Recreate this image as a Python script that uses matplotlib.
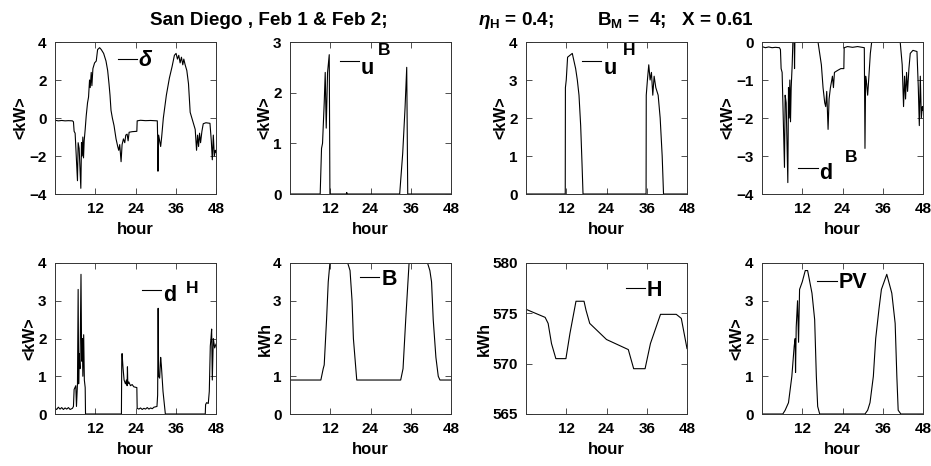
import numpy as np
import matplotlib
matplotlib.use("Agg")
import matplotlib.pyplot as plt

plt.rcParams['font.family'] = ['Liberation Sans', 'DejaVu Sans']
plt.rcParams['font.weight'] = 'bold'
plt.rcParams['mathtext.fontset'] = 'custom'
plt.rcParams['mathtext.rm'] = 'Liberation Sans:bold'
plt.rcParams['mathtext.bf'] = 'Liberation Sans:bold'
plt.rcParams['mathtext.it'] = 'Liberation Sans:italic:bold'

# ---------------- data (hour, value) ----------------
delta_pts = [(0,-0.12),(1,-0.15),(2,-0.13),(3,-0.15),(4,-0.14),(5.2,-0.15),(5.5,-0.2),(5.7,-0.7),(6.0,-0.8),
    (6.7,-3.3),(6.9,-1.3),(7.2,-1.6),(7.7,-3.7),(7.9,-1.3),(8.1,-2.0),(8.3,-1.0),(8.5,-2.1),(8.7,-1.2),(9.0,-0.6),
    (9.3,0.1),(9.7,0.8),(10.0,1.1),(10.3,2.0),(10.5,1.6),(10.8,2.4),(11.0,1.7),(11.3,2.6),(11.8,2.9),(12.3,3.0),
    (12.7,3.6),(13.3,3.7),(13.8,3.6),(14.5,3.4),(15.2,3.0),(15.7,2.5),(16.1,1.8),(16.4,1.2),(16.7,0.4),(17.1,0.0),
    (17.6,-0.4),(18.2,-1.1),(18.7,-1.5),(19.0,-1.7),(19.3,-1.4),(19.7,-2.3),(20.0,-1.4),(20.4,-1.1),(20.8,-1.3),
    (21.1,-0.9),(21.5,-0.85),(21.8,-1.2),(22.1,-0.75),(23.0,-0.72),(24.4,-0.7),(24.5,-0.15),(25.5,-0.12),(27.0,-0.14),
    (28.5,-0.13),(30.5,-0.15),(30.6,-1.0),(30.7,-2.8),(30.9,-0.9),(31.2,-1.2),(31.5,-1.5),(31.8,-1.0),(32.3,0.0),
    (33.2,1.2),(34.1,2.1),(34.9,2.7),(35.6,3.3),(36.1,3.4),(36.5,3.1),(36.9,3.3),(37.3,2.9),(37.7,3.2),(38.1,2.8),
    (38.4,3.1),(38.8,2.8),(39.3,2.5),(39.8,1.8),(40.3,0.3),(40.8,0.0),(41.3,-0.3),(41.8,-0.6),(42.2,-1.7),(42.5,-0.9),
    (42.8,-1.5),(43.1,-0.8),(43.4,-1.3),(43.8,-0.7),(44.2,-0.3),(45.0,-0.25),(46.2,-0.28),(46.6,-1.2),(46.9,-2.2),
    (47.2,-0.9),(47.5,-2.0),(47.8,-1.7),(48.0,-1.8)]

uB_pts = [(0,0),(9.0,0),(9.4,0.9),(9.7,1.0),(10.2,1.8),(10.5,2.4),(10.8,1.3),(11.2,2.4),(11.7,2.75),(11.9,0),
    (16.8,0),(16.9,0.03),(17.1,0),(32.7,0),(33.6,0.8),(34.3,1.7),(34.8,2.5),(35.1,0),(48,0)]

uH_pts = [(0,0),(11.7,0),(11.75,2.8),(12.0,3.0),(12.4,3.6),(13.8,3.7),(14.3,3.5),(14.8,3.3),(15.3,3.0),(15.8,2.6),
    (16.3,1.8),(16.7,0.8),(17.0,0),(35.8,0),(35.85,2.6),(36.2,3.0),(36.6,3.4),(37.0,3.0),(37.4,3.2),(37.8,2.6),
    (38.2,3.1),(38.7,2.8),(39.4,2.6),(40.0,2.0),(40.6,1.0),(41.0,0),(48,0)]

dB_pts = [(0,-0.12),(1,-0.15),(2,-0.13),(3,-0.15),(4,-0.14),(5.2,-0.15),(5.5,-0.2),(5.7,-0.7),(6.0,-0.8),(6.7,-3.3),
    (6.9,-1.4),(7.2,-1.6),(7.7,-3.7),(7.9,-1.2),(8.1,-2.0),(8.3,-1.0),(8.5,-2.1),(8.7,-1.2),(9.0,-0.6),(9.2,0),
    (9.6,0),(9.7,-0.7),(9.8,0),(10.2,0),(16.7,0),(17.2,-0.3),(17.7,-0.6),(18.2,-1.2),(18.7,-1.6),(19.0,-1.7),
    (19.3,-1.3),(19.7,-2.3),(20.0,-1.5),(20.4,-1.2),(21.0,-0.9),(21.3,-1.2),(21.6,-0.8),(22.5,-0.75),(23.5,-0.7),
    (24.4,-0.7),(24.5,-0.15),(25.5,-0.12),(27,-0.14),(28.5,-0.12),(30.5,-0.15),(30.7,-2.8),(30.9,-0.9),(31.2,-1.1),
    (31.5,-1.4),(31.8,-1.0),(32.3,-0.3),(32.7,0),(41.2,0),(41.5,-0.3),(41.8,-0.6),(42.2,-1.7),(42.5,-0.9),(42.8,-1.5),
    (43.1,-0.8),(43.4,-1.3),(43.8,-0.7),(44.2,-0.3),(45.0,-0.22),(46.2,-0.25),(46.6,-1.2),(46.9,-2.2),(47.2,-0.9),
    (47.5,-2.0),(47.8,-1.7),(48.0,-1.8)]

dH_pts = [(0,0.15),(0.5,0.12),(1,0.18),(1.5,0.13),(2,0.17),(2.5,0.12),(3,0.16),(3.5,0.13),(4,0.17),(4.5,0.12),
    (5.2,0.15),(5.5,0.2),(5.7,0.65),(6.2,0.75),(6.4,0.2),(6.7,0.8),(6.9,3.3),(7.05,0.8),(7.2,1.6),(7.45,1.2),
    (7.75,3.7),(7.95,1.4),(8.15,2.0),(8.3,1.0),(8.55,2.1),(8.75,0.9),(9.0,0.7),(9.1,0),(19.8,0),(19.9,1.4),(20.0,1.6),
    (20.3,1.2),(20.6,0.9),(21.0,0.8),(21.3,0.9),(21.5,0.75),(21.6,1.25),(21.7,0.8),(22.0,0.85),(22.5,0.75),(23.0,0.78),
    (23.5,0.72),(24.4,0.7),(24.5,0.15),(25,0.13),(25.5,0.16),(26,0.12),(26.5,0.15),(27,0.13),(27.5,0.17),(28,0.13),
    (28.5,0.16),(29,0.14),(29.5,0.18),(30.4,0.2),(30.6,0.5),(30.75,2.8),(30.9,1.0),(31.2,0.95),(31.5,1.5),(31.7,1.3),
    (32.2,0.6),(32.9,0),(44.8,0),(44.9,0.25),(45.2,0.3),(45.7,0.28),(46.0,0.6),(46.3,1.8),(46.5,2.0),(46.7,2.25),
    (46.9,0.9),(47.2,2.0),(47.6,1.75),(48,1.85)]

B_pts = [(0,0.9),(9.2,0.9),(9.9,1.2),(10.2,1.3),(10.9,2.5),(11.4,3.5),(11.9,4.0),(17.2,4.0),(17.9,3.8),(18.5,3.0),
    (18.9,2.0),(19.9,0.9),(33.0,0.9),(33.7,1.2),(34.5,2.5),(35.5,4.0),(41.0,4.0),(41.7,3.8),(42.2,3.5),(42.7,2.5),
    (43.5,1.5),(44.2,1.0),(44.7,0.9),(48,0.9)]

H_pts = [(0,575.4),(5.7,574.6),(6.6,574.0),(7.6,572.0),(8.9,570.5),(11.9,570.5),(13.1,573.0),(14.9,576.2),(17.3,576.2),
    (17.9,575.3),(19.0,574.0),(24.0,572.4),(30.5,571.4),(32.1,569.5),(35.5,569.5),(37.1,572.0),(40.1,574.9),
    (44.8,574.9),(46.3,574.5),(48,571.5)]

PV_pts = [(0,0),(6.2,0),(6.9,0.1),(7.9,0.3),(8.9,1.0),(9.6,1.8),(9.9,2.0),(10.0,1.1),(10.2,2.3),(10.6,3.0),(10.9,1.9),
    (11.2,3.3),(12.0,3.5),(12.9,3.8),(13.6,3.8),(14.9,3.2),(15.7,2.5),(16.2,1.0),(16.6,0.2),(17.2,0),(30.7,0),
    (31.5,0.1),(32.2,0.3),(33.2,1.0),(33.9,2.0),(34.9,2.8),(35.6,3.3),(37.2,3.7),(38.7,3.2),(39.7,2.4),(40.2,1.0),
    (40.6,0.1),(41.4,0),(48,0)]

xticks = [12, 24, 36, 48]
title_left = 'San Diego , Feb 1 & Feb 2;'
title_mid = r'$\eta_{\mathbf{H}}$ = 0.4;'
title_right = r'B$_{\mathbf{M}}$ =  4;   X = 0.61'

# panel specs: (points, ylim, yticks, ylabel, legend label, sup, legend pos, sup pos, style, text shift px)
panels = [
    (delta_pts, (-4, 4), [-4, -2, 0, 2, 4], '<kW>', 'δ', None, (0.39, 0.875), None, 'italic', 0),
    (uB_pts, (0, 3), [0, 1, 2, 3], '<kW>', 'u', 'B', (0.31, 0.862), (0.545, 0.914), 'normal', -6),
    (uH_pts, (0, 4), [0, 1, 2, 3, 4], '<kW>', 'u', 'H', (0.348, 0.862), (0.602, 0.914), 'normal', -6),
    (dB_pts, (-4, 0), [-4, -3, -2, -1, 0], '<kW>', 'd', 'B', (0.225, 0.158), (0.5125, 0.21), 'normal', -3.5),
    (dH_pts, (0, 4), [0, 1, 2, 3, 4], '<kW>', 'd', 'H', (0.54, 0.81), (0.81, 0.80), 'normal', -3.5),
    (B_pts, (0, 4), [0, 1, 2, 3, 4], 'kWh', 'B', None, (0.435, 0.894), None, 'normal', 0),
    (H_pts, (565, 580), [565, 570, 575, 580], 'kWh', 'H', None, (0.62, 0.82), None, 'normal', 0),
    (PV_pts, (0, 4), [0, 1, 2, 3, 4], '<kW>', 'PV', None, (0.344, 0.868), None, 'normal', 0),
]

W, Hh = 931, 466
fig = plt.figure(figsize=(W / 100, Hh / 100), dpi=100)
lefts = [55, 290, 526, 762]
rows = [(42, 194), (263, 414)]

for i, (pts, ylim, yt, ylab, lab, sup, lpos, spos, sty, dy) in enumerate(panels):
    r, c = divmod(i, 4)
    top, bot = rows[r]
    ax = fig.add_axes([lefts[c] / W, 1 - bot / Hh, 161 / W, (bot - top) / Hh])
    t = np.array([p[0] for p in pts])
    v = np.array([p[1] for p in pts])
    line, = ax.plot(t, v, color='black', lw=0.8)
    ax.set_xlim(0, 48)
    ax.set_ylim(*ylim)
    ax.set_xticks(xticks)
    ax.set_yticks(yt)
    ax.tick_params(direction='in', length=4.5, width=0.6, top=True, right=True,
                   labelsize=11, color='#333333')
    ax.tick_params(axis='x', pad=6)
    ax.tick_params(axis='y', pad=6)
    for s in ax.spines.values():
        s.set_linewidth(0.7)
        s.set_color('#333333')
    ax.set_xlabel('hour', fontsize=12, fontweight='bold', labelpad=4)
    ax.set_ylabel(ylab, fontsize=11.5, fontweight='bold', labelpad=0.5)
    leg = ax.legend([line], [lab], loc='center left', bbox_to_anchor=lpos, frameon=False,
                    handlelength=0.9, handletextpad=0.08, borderpad=0, borderaxespad=0,
                    prop={'weight': 'bold', 'size': 15.5, 'style': sty})
    leg.get_lines()[0].set_linewidth(0.8)
    if dy:
        leg.get_texts()[0].set_position((0, dy))
    if sup:
        ax.text(spos[0], spos[1], sup, transform=ax.transAxes, fontsize=12.5,
                fontweight='bold', ha='left', va='baseline')

ty = 1 - 25 / Hh
fig.text(150 / W, ty, title_left, ha='left', va='baseline', fontsize=13.6, fontweight='bold')
fig.text(478 / W, ty, title_mid, ha='left', va='baseline', fontsize=13.6, fontweight='bold')
fig.text(597 / W, ty, title_right, ha='left', va='baseline', fontsize=13.6, fontweight='bold')

fig.savefig('out.png', dpi=100)
